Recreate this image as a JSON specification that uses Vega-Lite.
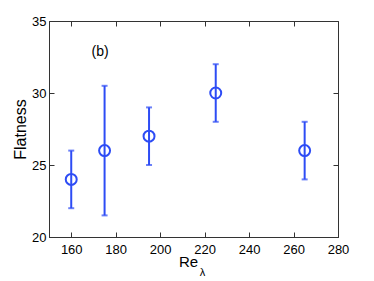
{
  "$schema": "https://vega.github.io/schema/vega-lite/v6.json",
  "width": 289,
  "height": 216,
  "autosize": {"type": "none"},
  "padding": {"left": 49, "top": 21, "right": 36, "bottom": 44},
  "background": "white",
  "config": {
    "view": {"stroke": "#333333", "strokeWidth": 1},
    "font": "Liberation Sans",
    "axis": {
      "domainColor": "#333333",
      "tickColor": "#333333",
      "tickSize": -5,
      "labelFont": "Liberation Sans",
      "labelFontSize": 13,
      "labelColor": "#000000",
      "titleFont": "Liberation Sans",
      "titleFontSize": 15,
      "titleFontWeight": "normal",
      "titleColor": "#000000",
      "grid": false
    }
  },
  "data": {
    "values": [
      {"re": 160, "flat": 24, "lo": 22, "hi": 26},
      {"re": 175, "flat": 26, "lo": 21.5, "hi": 30.5},
      {"re": 195, "flat": 27, "lo": 25, "hi": 29},
      {"re": 225, "flat": 30, "lo": 28, "hi": 32},
      {"re": 265, "flat": 26, "lo": 24, "hi": 28}
    ]
  },
  "resolve": {"axis": {"x": "independent", "y": "independent"}},
  "layer": [
    {
      "mark": {"type": "rule", "color": "#2d4cf5", "strokeWidth": 2},
      "encoding": {
        "x": {"field": "re", "type": "quantitative", "scale": {"domain": [150, 280], "nice": false},
          "axis": {"title": "Re", "values": [160, 180, 200, 220, 240, 260, 280], "labelPadding": 11, "titleX": 139, "titleY": 17, "titleBaseline": "top", "labelFlush": false}},
        "y": {"field": "lo", "type": "quantitative", "scale": {"domain": [20, 35], "nice": false},
          "axis": {"title": "Flatness", "titleFontSize": 16, "values": [20, 25, 30, 35], "labelPadding": 8, "titlePadding": 3, "labelFlush": false}},
        "y2": {"field": "hi"}
      }
    },
    {
      "mark": {"type": "tick", "color": "#2d4cf5", "orient": "horizontal", "size": 6, "thickness": 2},
      "encoding": {
        "x": {"field": "re", "type": "quantitative", "axis": {"orient": "top", "labels": false, "title": null, "domain": false, "values": [160, 180, 200, 220, 240, 260, 280]}},
        "y": {"field": "lo", "type": "quantitative", "axis": {"orient": "right", "labels": false, "title": null, "domain": false, "values": [20, 25, 30, 35]}}
      }
    },
    {
      "mark": {"type": "tick", "color": "#2d4cf5", "orient": "horizontal", "size": 6, "thickness": 2},
      "encoding": {
        "x": {"field": "re", "type": "quantitative", "axis": null},
        "y": {"field": "hi", "type": "quantitative", "axis": null}
      }
    },
    {
      "mark": {"type": "point", "shape": "circle", "filled": false, "color": "#2d4cf5", "size": 120, "strokeWidth": 2, "opacity": 1},
      "encoding": {
        "x": {"field": "re", "type": "quantitative", "axis": null},
        "y": {"field": "flat", "type": "quantitative", "axis": null}
      }
    },
    {
      "data": {"values": [{"x": 173, "y": 32.88, "t": "(b)"}]},
      "mark": {"type": "text", "fontSize": 14, "font": "Liberation Sans", "color": "#000000"},
      "encoding": {
        "x": {"field": "x", "type": "quantitative", "axis": null},
        "y": {"field": "y", "type": "quantitative", "axis": null},
        "text": {"field": "t"}
      }
    },
    {
      "data": {"values": [{"x": 219, "y": 17.5, "t": "λ"}]},
      "mark": {"type": "text", "fontSize": 11, "font": "Liberation Sans", "color": "#000000", "clip": false},
      "encoding": {
        "x": {"field": "x", "type": "quantitative", "axis": null},
        "y": {"field": "y", "type": "quantitative", "axis": null},
        "text": {"field": "t"}
      }
    }
  ]
}
